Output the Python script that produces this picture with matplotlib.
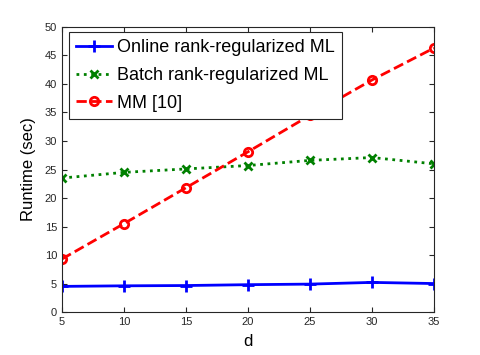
import matplotlib
matplotlib.use('Agg')
import matplotlib.pyplot as plt

plt.rcParams['font.family'] = ['Liberation Sans', 'DejaVu Sans']

d = [5, 10, 15, 20, 25, 30, 35]
online_ml = [4.5, 4.6, 4.65, 4.8, 4.9, 5.2, 5.0]
batch_ml = [23.5, 24.5, 25.1, 25.7, 26.6, 27.1, 26.0]
mm = [9.3, 15.5, 21.8, 28.1, 34.5, 40.7, 46.3]

labels = ['Online rank-regularized ML', 'Batch rank-regularized ML', 'MM [10]']
yticks = list(range(0, 51, 5))

fig = plt.figure(figsize=(4.8, 3.55), dpi=100)
ax = fig.add_axes([0.129, 0.121, 0.775, 0.803])

ax.plot(d, online_ml, '-', color='#0000ff', marker='+', markersize=9,
        markeredgewidth=2, linewidth=2, label=labels[0])
ax.plot(d, batch_ml, ':', color='#008000', marker='x', markersize=6,
        markeredgewidth=2, linewidth=2, label=labels[1])
ax.plot(d, mm, '--', color='#ff0000', marker='o', markersize=6,
        markeredgewidth=2, markerfacecolor='none', linewidth=2, label=labels[2])

ax.set_xlim(5, 35)
ax.set_ylim(0, 50)
ax.set_xticks(d)
ax.set_yticks(yticks)
ax.tick_params(direction='in', length=3.5, labelsize=8, colors='#262626',
               top=True, right=True)
for s in ax.spines.values():
    s.set_color('#262626')
    s.set_linewidth(0.8)

ax.set_xlabel('d', fontsize=12, labelpad=5)
ax.set_ylabel('Runtime (sec)', fontsize=12, labelpad=6)

leg = ax.legend(loc='upper left', bbox_to_anchor=(0.018, 0.983), fontsize=13,
                frameon=True, fancybox=False, edgecolor='#262626', framealpha=1,
                handlelength=2.0, handletextpad=0.3, borderpad=0.4,
                labelspacing=0.6, borderaxespad=0)
leg.get_frame().set_linewidth(0.8)

fig.savefig('out.png', dpi=100)
